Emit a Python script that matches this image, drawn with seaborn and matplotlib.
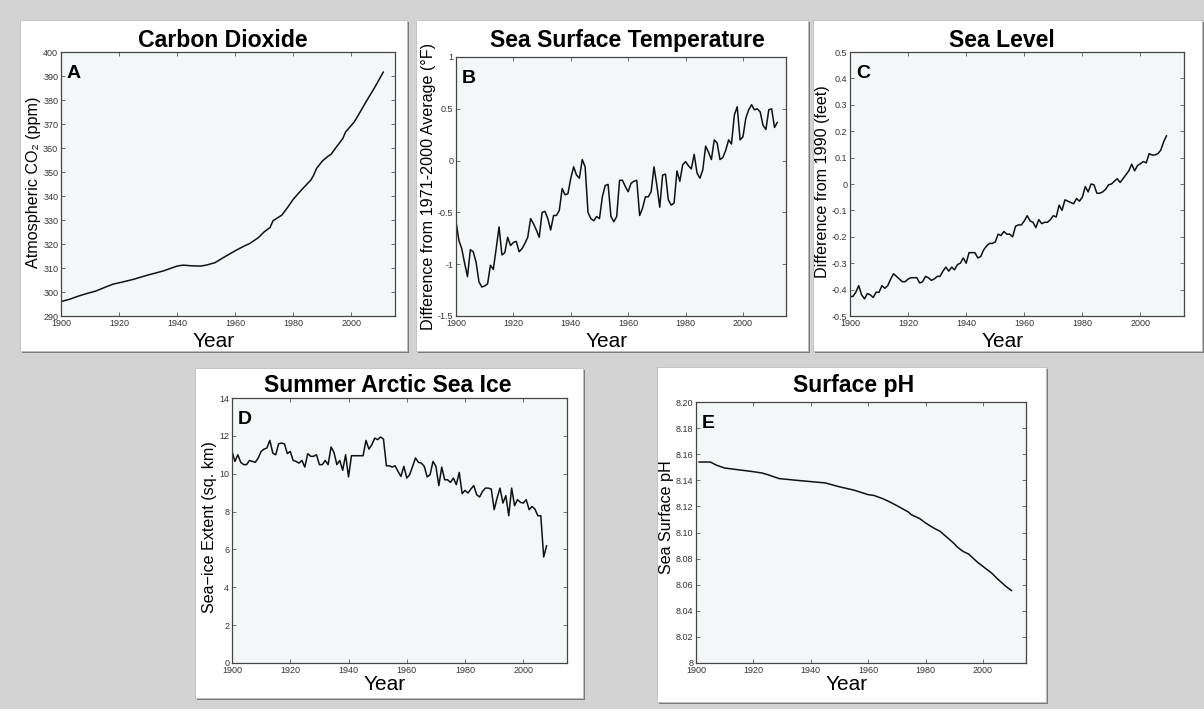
import numpy as np
import pandas as pd
import matplotlib
matplotlib.use("Agg")
import matplotlib.pyplot as plt
from matplotlib.patches import Rectangle
import seaborn as sns

# ---------------- data ----------------
co2_years = [1900, 1903, 1906, 1909, 1912, 1915, 1918, 1921, 1925, 1930, 1935, 1940, 1942,
             1945, 1948, 1950, 1953, 1956, 1960, 1963, 1965, 1968, 1970, 1972, 1973, 1976,
             1978, 1980, 1983, 1986, 1987, 1988, 1990, 1992, 1993, 1995, 1997, 1998, 2000,
             2001, 2003, 2005, 2008, 2011]
co2_ppm = [296.0, 297.0, 298.3, 299.4, 300.4, 301.9, 303.3, 304.1, 305.3, 307.1, 308.7, 310.8,
           311.2, 310.9, 310.8, 311.2, 312.2, 314.4, 317.2, 319.1, 320.2, 322.7, 325.1, 326.9,
           329.7, 332.0, 335.2, 338.7, 342.8, 346.6, 348.7, 351.5, 354.6, 356.6, 357.4, 360.7,
           363.9, 366.7, 369.5, 370.9, 375.0, 379.2, 385.2, 391.7]

sst_years = list(range(1900, 2013))
sst_anomaly = [-0.59, -0.77, -0.85, -0.99, -1.12, -0.86, -0.88, -0.98, -1.17, -1.22,
               -1.21, -1.19, -1.01, -1.05, -0.85, -0.64, -0.91, -0.89, -0.74, -0.82,
               -0.79, -0.78, -0.88, -0.85, -0.80, -0.74, -0.56, -0.61, -0.67, -0.74,
               -0.50, -0.49, -0.56, -0.67, -0.53, -0.53, -0.48, -0.27, -0.33, -0.32,
               -0.17, -0.06, -0.14, -0.17, 0.01, -0.06, -0.50, -0.56, -0.58, -0.54,
               -0.56, -0.35, -0.24, -0.23, -0.54, -0.59, -0.54, -0.19, -0.19, -0.25,
               -0.30, -0.22, -0.20, -0.19, -0.53, -0.46, -0.35, -0.35, -0.30, -0.06,
               -0.24, -0.45, -0.14, -0.13, -0.38, -0.43, -0.41, -0.10, -0.20, -0.04,
               -0.01, -0.05, -0.08, 0.06, -0.12, -0.17, -0.09, 0.14, 0.08, 0.01,
               0.20, 0.17, 0.01, 0.03, 0.10, 0.20, 0.16, 0.44, 0.52, 0.20,
               0.23, 0.41, 0.49, 0.54, 0.49, 0.50, 0.47, 0.34, 0.30, 0.49,
               0.50, 0.32, 0.37]

sea_years = list(range(1900, 2010))
sea_level = [-0.426, -0.426, -0.41, -0.385, -0.42, -0.435, -0.415, -0.42, -0.43, -0.41,
             -0.41, -0.385, -0.395, -0.385, -0.36, -0.34, -0.35, -0.36, -0.37, -0.37,
             -0.36, -0.355, -0.355, -0.355, -0.375, -0.37, -0.35, -0.355, -0.365, -0.36,
             -0.35, -0.35, -0.33, -0.315, -0.33, -0.315, -0.325, -0.305, -0.30, -0.28,
             -0.30, -0.26, -0.26, -0.26, -0.28, -0.275, -0.25, -0.235, -0.225, -0.225,
             -0.22, -0.19, -0.195, -0.18, -0.19, -0.19, -0.20, -0.16, -0.155, -0.155,
             -0.14, -0.12, -0.14, -0.145, -0.165, -0.135, -0.15, -0.145, -0.145, -0.135,
             -0.12, -0.125, -0.08, -0.10, -0.06, -0.065, -0.07, -0.075, -0.055, -0.065,
             -0.05, -0.01, -0.03, 0.0, -0.003, -0.035, -0.035, -0.03, -0.02, -0.003,
             0.0, 0.01, 0.02, 0.006, 0.02, 0.035, 0.05, 0.075, 0.05, 0.07,
             0.077, 0.085, 0.08, 0.115, 0.11, 0.11, 0.115, 0.128, 0.16, 0.183]

ice_years = list(range(1900, 2009))
ice_extent = [11.18, 10.65, 11.0, 10.6, 10.48, 10.48, 10.7, 10.65, 10.6, 10.83,
              11.18, 11.3, 11.36, 11.76, 11.09, 11.0, 11.58, 11.62, 11.58, 11.06,
              11.18, 10.7, 10.65, 10.56, 10.7, 10.35, 11.06, 10.92, 10.92, 11.0,
              10.48, 10.48, 10.7, 10.48, 11.41, 11.13, 10.48, 10.7, 10.18, 11.0,
              9.83, 10.95, 10.95, 10.95, 10.95, 10.95, 11.76, 11.3, 11.53, 11.88,
              11.8, 11.94, 11.83, 10.42, 10.42, 10.35, 10.42, 10.12, 9.86, 10.39,
              9.77, 9.95, 10.39, 10.83, 10.6, 10.56, 10.39, 9.83, 9.95, 10.65,
              10.39, 9.37, 10.35, 9.68, 9.68, 9.54, 9.77, 9.42, 10.07, 8.95,
              9.12, 8.98, 9.19, 9.37, 8.89, 8.77, 9.07, 9.24, 9.24, 9.19,
              8.1, 8.72, 9.24, 8.45, 8.84, 7.78, 9.24, 8.31, 8.63, 8.49,
              8.45, 8.63, 8.1, 8.27, 8.13, 7.78, 7.78, 5.6, 6.2]

ph_years = [1901, 1905, 1907, 1910, 1915, 1920, 1923, 1925, 1929, 1935, 1940, 1945, 1950,
            1955, 1960, 1962, 1965, 1967, 1970, 1974, 1975, 1978, 1980, 1983, 1985, 1988,
            1990, 1991, 1993, 1995, 1998, 2000, 2001, 2003, 2005, 2008, 2010]
ph_values = [8.154, 8.154, 8.1517, 8.1494, 8.148, 8.1466, 8.1456, 8.1443, 8.1413, 8.140,
             8.139, 8.138, 8.135, 8.1325, 8.129, 8.1284, 8.126, 8.124, 8.1206, 8.1157,
             8.1137, 8.1106, 8.1073, 8.1032, 8.101, 8.0953, 8.0914, 8.089, 8.0856, 8.0835,
             8.0774, 8.074, 8.0723, 8.069, 8.0646, 8.0587, 8.0554]

co2_ticks = list(range(290, 401, 10))
sst_ticks = [-1.5, -1, -0.5, 0, 0.5, 1]
sst_ticklabels = ["-1.5", "-1", "-0.5", "0", "0.5", "1"]
sea_ticks = [-0.5, -0.4, -0.3, -0.2, -0.1, 0, 0.1, 0.2, 0.3, 0.4, 0.5]
sea_ticklabels = ["-0.5", "-0.4", "-0.3", "-0.2", "-0.1", "0", "0.1", "0.2", "0.3", "0.4", "0.5"]
ice_ticks = list(range(0, 15, 2))
ph_ticks = [8.00, 8.02, 8.04, 8.06, 8.08, 8.10, 8.12, 8.14, 8.16, 8.18, 8.20]
ph_ticklabels = ["8", "8.02", "8.04", "8.06", "8.08", "8.10", "8.12", "8.14", "8.16", "8.18", "8.20"]
year_ticks = [1900, 1920, 1940, 1960, 1980, 2000]

# ---------------- style ----------------
sns.set_theme(style="ticks")
plt.rcParams['font.family'] = ['Liberation Sans', 'DejaVu Sans']

W, H = 1204, 709
fig = plt.figure(figsize=(W / 100, H / 100), dpi=100)
fig.patch.set_facecolor('#d3d3d3')


def fbox(l, t, r, b):
    return (l / W, 1 - b / H, (r - l) / W, (b - t) / H)


# white panel cards with shadow (drawn beneath the axes)
cards = [(20, 20, 407, 351), (416, 20, 808, 351), (813, 20, 1202, 351),
         (195, 368, 583, 698), (657, 367, 1046, 702)]
for (l, t, r, b) in cards:
    x, y, w, h = fbox(l, t, r, b)
    fig.add_artist(Rectangle((x + 2 / W, y - 2 / H), w, h, transform=fig.transFigure,
                             facecolor='#7a7a7a', edgecolor='none', zorder=-3))
    fig.add_artist(Rectangle((x, y), w, h, transform=fig.transFigure,
                             facecolor='white', edgecolor='#bdbdbd', linewidth=0.6, zorder=-2))

panels = [
    dict(box=(61, 52, 395, 316), x=co2_years, y=co2_ppm, title="Carbon Dioxide", letter="A",
         ylabel="Atmospheric CO₂ (ppm)", ylim=(290, 400), yticks=co2_ticks,
         yticklabels=[str(v) for v in co2_ticks], tx=0.485, tpad=3.8, xl=-0.06, yl=0.508),
    dict(box=(456, 57, 786, 316), x=sst_years, y=sst_anomaly, title="Sea Surface Temperature",
         letter="B", ylabel="Difference from 1971-2000 Average (°F)", ylim=(-1.5, 1),
         yticks=sst_ticks, yticklabels=sst_ticklabels, tx=0.518, tpad=7.2, xl=-0.062, yl=0.5),
    dict(box=(850, 52, 1184, 316), x=sea_years, y=sea_level, title="Sea Level", letter="C",
         ylabel="Difference from 1990 (feet)", ylim=(-0.5, 0.5), yticks=sea_ticks,
         yticklabels=sea_ticklabels, tx=0.455, tpad=3.8, xl=-0.06, yl=0.508),
    dict(box=(232, 398, 567, 663), x=ice_years, y=ice_extent, title="Summer Arctic Sea Ice",
         letter="D", ylabel="Sea−ice Extent (sq. km)", ylim=(0, 14), yticks=ice_ticks,
         yticklabels=[str(v) for v in ice_ticks], tx=0.466, tpad=4.3, xl=-0.045, yl=0.513),
    dict(box=(696, 402, 1026, 663), x=ph_years, y=ph_values, title="Surface pH", letter="E",
         ylabel="Sea Surface pH", ylim=(8.0, 8.2), yticks=ph_ticks, yticklabels=ph_ticklabels,
         tx=0.476, tpad=7.2, xl=-0.046, yl=0.56),
]

for p in panels:
    ax = fig.add_axes(fbox(*p['box']))
    ax.set_facecolor('#f3f7f8')
    df = pd.DataFrame({'Year': p['x'], 'val': p['y']})
    sns.lineplot(data=df, x='Year', y='val', ax=ax, color='#111111', linewidth=1.1)
    ax.set_xlim(1900, 2015)
    ax.set_ylim(*p['ylim'])
    ax.set_xticks(year_ticks)
    ax.set_xticklabels([str(v) for v in year_ticks])
    ax.set_yticks(p['yticks'])
    ax.set_yticklabels(p['yticklabels'])
    ax.tick_params(direction='in', length=3, width=0.6, color='#555555', labelsize=6.5,
                   labelcolor='#333333', top=True, right=True, pad=2)
    for s in ax.spines.values():
        s.set_color('#444444')
        s.set_linewidth(0.9)
    ax.set_title(p['title'], fontsize=16.6, fontweight='bold', pad=p['tpad'], color='black',
                 x=p['tx'])
    ax.set_xlabel("Year", fontsize=15, color='black')
    ax.xaxis.set_label_coords(0.456, p['xl'])
    ax.xaxis.label.set_verticalalignment('top')
    ax.set_ylabel(p['ylabel'], fontsize=11.6, color='black', labelpad=1.5)
    ax.yaxis.label.set_y(p['yl'])
    ax.text(0.018, 0.951, p['letter'], transform=ax.transAxes, fontsize=14,
            fontweight='bold', va='top', ha='left', color='black')

fig.savefig("out.png", dpi=100, facecolor=fig.get_facecolor())
